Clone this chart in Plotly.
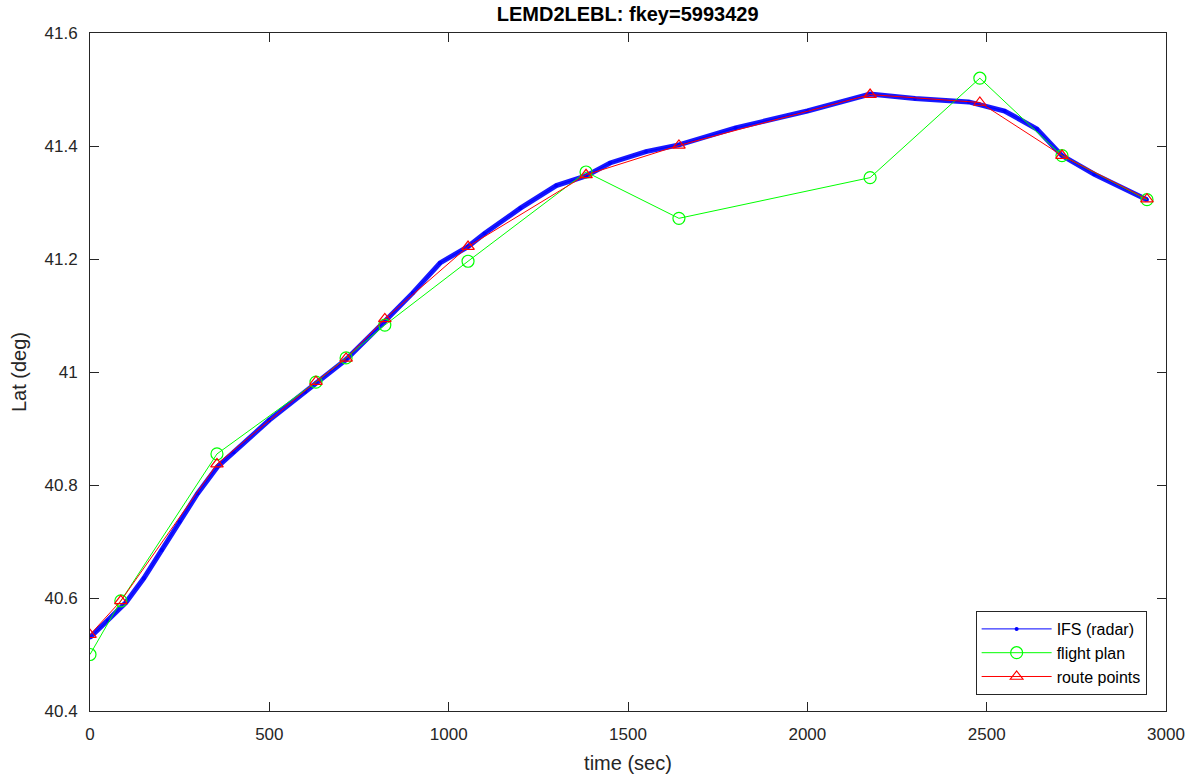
import plotly.graph_objects as go

# IFS radar track (dense)
radar_t = [0, 50, 100, 150, 200, 250, 300, 355, 400, 500, 600, 630, 714, 822, 900, 976,
           1054, 1100, 1200, 1300, 1383, 1450, 1550, 1642, 1800, 2000, 2175, 2300, 2450,
           2550, 2640, 2710, 2800, 2947]
radar_lat = [40.53, 40.56, 40.592, 40.635, 40.685, 40.735, 40.785, 40.832, 40.858, 40.915,
             40.965, 40.98, 41.022, 41.09, 41.14, 41.193, 41.222, 41.245, 41.29, 41.33,
             41.347, 41.37, 41.39, 41.402, 41.432, 41.462, 41.492, 41.484, 41.478,
             41.462, 41.43, 41.383, 41.35, 41.305]

# flight plan
plan_t = [0, 86, 354, 630, 714, 822, 1054, 1383, 1642, 2175, 2481, 2710, 2947]
plan_lat = [40.50, 40.595, 40.855, 40.982, 41.025, 41.083, 41.196, 41.354, 41.272,
            41.344, 41.52, 41.383, 41.305]

# route points
route_t = [0, 86, 354, 630, 714, 822, 1054, 1383, 1642, 2175, 2481, 2710, 2947]
route_lat = [40.535, 40.595, 40.837, 40.983, 41.024, 41.094, 41.222, 41.349, 41.401,
             41.491, 41.477, 41.383, 41.306]

x_ticks = [0, 500, 1000, 1500, 2000, 2500, 3000]
y_ticks = [40.4, 40.6, 40.8, 41.0, 41.2, 41.4, 41.6]
y_labels = ["40.4", "40.6", "40.8", "41", "41.2", "41.4", "41.6"]

fig = go.Figure()

# thick radar line (dense points look)
fig.add_trace(go.Scatter(x=radar_t, y=radar_lat, mode="lines",
                         line=dict(color="#0000ff", width=5), opacity=0.9,
                         showlegend=False, hoverinfo="skip"))
fig.add_trace(go.Scatter(x=radar_t, y=radar_lat, mode="lines+markers",
                         line=dict(color="#0000ff", width=1),
                         marker=dict(color="#0000ff", size=4, symbol="circle"),
                         name="IFS (radar)"))
fig.add_trace(go.Scatter(x=plan_t, y=plan_lat, mode="lines+markers",
                         line=dict(color="#00ff00", width=1),
                         marker=dict(color="#00ff00", size=12, symbol="circle-open",
                                     line=dict(width=1.2)),
                         name="flight plan"))
fig.add_trace(go.Scatter(x=route_t, y=route_lat, mode="lines+markers",
                         line=dict(color="#ff0000", width=1),
                         marker=dict(color="#ff0000", size=11, symbol="triangle-up-open",
                                     line=dict(width=1.2)),
                         name="route points"))

font = "Liberation Sans, Arial, Helvetica, sans-serif"
axis_common = dict(showgrid=False, zeroline=False, showline=True, mirror="ticks",
                   linecolor="#262626", linewidth=1, ticks="inside", ticklen=9,
                   tickcolor="#262626", tickwidth=1, ticklabelstandoff=8,
                   automargin=False,
                   tickfont=dict(family=font, size=17, color="#262626"))

fig.update_layout(
    width=1191, height=775,
    margin=dict(l=90, r=25, t=33, b=64),
    paper_bgcolor="white", plot_bgcolor="white",
    title=dict(text="<b>LEMD2LEBL: fkey=5993429</b>", x=0.527, xanchor="center",
               y=0.982, yanchor="middle",
               font=dict(family=font, size=20, color="black")),
    xaxis=dict(range=[0, 3000], tickvals=x_ticks,
               title=dict(text="time (sec)", font=dict(family=font, size=20, color="#262626"),
                          standoff=12),
               **axis_common),
    yaxis=dict(range=[40.4, 41.6], tickvals=y_ticks, ticktext=y_labels,
               title=dict(text="Lat (deg)", font=dict(family=font, size=20, color="#262626"),
                          standoff=12),
               **axis_common),
    legend=dict(x=0.982, xanchor="right", y=0.0236, yanchor="bottom",
                bgcolor="white", bordercolor="#262626", borderwidth=1,
                font=dict(family=font, size=16, color="black"),
                tracegroupgap=0, itemwidth=70),
    showlegend=True,
)

fig.write_html("out.html")
